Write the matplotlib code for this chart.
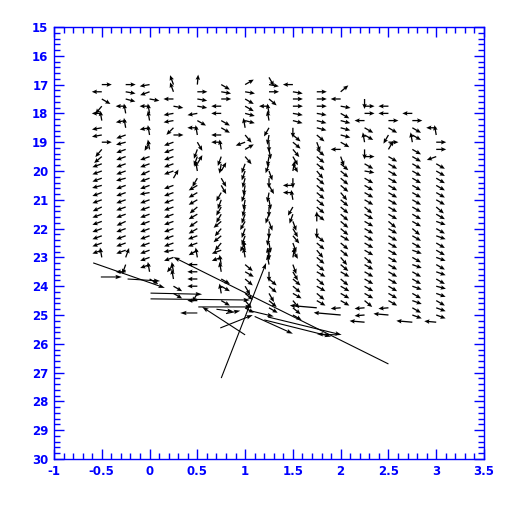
import numpy as np
import matplotlib
matplotlib.use("Agg")
import matplotlib.pyplot as plt
from matplotlib.ticker import MultipleLocator, FormatStrFormatter

# grid of small vectors: one column per x, rows every 0.25 starting at col_ytop
col_x = [-0.5, -0.25, 0.0, 0.25, 0.5, 0.75, 1.0, 1.25, 1.5, 1.75, 2.0, 2.25, 2.5, 2.75, 3.0]
col_ytop = [17.0, 17.0, 17.0, 17.0, 17.0, 17.0, 17.0, 16.75, 17.0, 17.25, 17.25, 17.5, 17.75, 18.0, 18.5]
row_step = 0.25

# direction of each small vector, degrees on screen (0 = right, 90 = up)
col_angles = [
    [0, 180, 330, 230, 180, 100, 190, 190, 0, 230, 220, 200, 200, 200, 195, 200, 200, 205, 200, 200,
     200, 200, 200, 200, 100],
    [0, 350, 345, 180, 100, 190, 100, 200, 195, 200, 200, 200, 200, 195, 200, 200, 200, 200, 200, 205,
     200, 200, 200, 200, 70, 250, 180],
    [190, 200, 350, 180, 100, 100, 190, 100, 240, 100, 200, 200, 205, 200, 200, 190, 200, 200, 200, 200,
     200, 200, 200, 200, 200, 200, 100, 330],
    [110, 110, 180, 350, 190, 190, 225, 0, 200, 200, 200, 200, 200, 60, 200, 200, 200, 200, 200, 200,
     200, 200, 200, 190, 200, 230, 100, 100, 330, 330],
    [85, 0, 350, 350, 190, 330, 180, 100, 300, 250, 250, 60, 100, 240, 210, 210, 210, 220, 210, 215,
     210, 200, 200, 210, 100, 180, 180, 180, 180, 240, 180],
    [330, 350, 0, 180, 180, 330, 330, 180, 180, 100, 250, 260, 60, 300, 300, 240, 250, 240, 240, 220,
     230, 220, 230, 200, 200, 100, 100, 330, 330, 100, 330],
    [30, 350, 330, 330, 345, 345, 100, 310, 200, 30, 310, 250, 250, 255, 260, 250, 260, 255, 250, 240,
     250, 250, 240, 100, 100, 320, 330, 320, 300, 320, 310, 330],
    [300, 350, 0, 320, 180, 100, 100, 240, 260, 270, 280, 260, 250, 290, 270, 300, 260, 280, 270, 250,
     290, 270, 260, 280, 270, 100, 100, 270, 320, 320, 300, 320, 330],
    [180, 350, 0, 0, 350, 345, 270, 320, 320, 310, 300, 300, 80, 270, 180, 180, 100, 240, 250, 290,
     300, 310, 290, 300, 80, 290, 300, 320, 320, 330, 310, 320, 330],
    [0, 0, 0, 350, 345, 345, 320, 290, 320, 320, 320, 310, 320, 320, 320, 320, 320, 320, 90, 270,
     320, 320, 310, 320, 320, 330, 320, 330, 320, 330, 175],
    [40, 180, 350, 330, 345, 345, 345, 330, 180, 290, 320, 320, 320, 320, 310, 320, 320, 320, 320, 320,
     330, 320, 320, 310, 320, 330, 320, 330, 330, 330, 185, 175],
    [270, 0, 0, 180, 330, 330, 100, 270, 0, 330, 350, 330, 330, 330, 330, 320, 330, 330, 330, 330,
     330, 330, 320, 330, 330, 330, 330, 330, 320, 185, 185, 175],
    [180, 180, 0, 330, 240, 0, 60, 330, 330, 330, 330, 330, 330, 330, 330, 330, 320, 330, 330, 330,
     330, 330, 330, 330, 330, 330, 330, 330, 185, 175],
    [180, 0, 330, 330, 100, 330, 330, 330, 330, 330, 330, 330, 330, 330, 330, 330, 320, 330, 330, 340,
     330, 340, 330, 330, 340, 330, 340, 330, 340, 175],
    [180, 100, 0, 0, 200, 330, 330, 330, 330, 330, 330, 320, 330, 340, 330, 340, 330, 330, 340, 330,
     340, 330, 345, 340, 330, 340, 340, 175],
]
# length (px) of the last vector of each column, the rest are 10 px
bottom_len = [10, 10, 10, 10, 10, 10, 10, 10, 10, 27, 27, 15, 15, 16, 12]

# large displacement vectors near the bottom (data coords)
long_x0 = [-0.59, -0.51, -0.23, 0.01, 0.01, 0.51, 0.50, 0.75, 2.50, 1.00, 0.74, 1.24, 1.20, 1.10, 1.96, 0.80, 1.05, 0.70]
long_y0 = [23.19, 23.68, 23.75, 24.24, 24.44, 24.72, 24.93, 27.19, 26.70, 25.69, 25.45, 25.07, 25.17, 25.05, 25.69, 24.95, 24.85, 24.80]
long_x1 = [0.16, -0.29, 0.11, 0.55, 1.05, 1.07, 0.32, 1.22, 0.25, 0.55, 1.08, 2.01, 1.90, 1.50, 1.75, 0.95, 1.30, 0.88]
long_y1 = [24.06, 23.68, 23.82, 24.28, 24.48, 24.72, 24.93, 23.19, 22.99, 24.72, 25.00, 25.69, 25.75, 25.65, 25.66, 24.85, 25.05, 24.88]

fig = plt.figure(figsize=(5.12, 5.12), dpi=100)
ax = fig.add_axes([0.1055, 0.1035, 0.8398, 0.8438])

X, Y, U, V = [], [], [], []
for x, y0, angs, blen in zip(col_x, col_ytop, col_angles, bottom_len):
    for i, a in enumerate(angs):
        L = blen if i == len(angs) - 1 else 10
        X.append(x)
        Y.append(y0 + i * row_step)
        U.append(L * np.cos(np.radians(a)))
        V.append(L * np.sin(np.radians(a)))

ax.quiver(X, Y, U, V, angles='uv', scale_units='dots', scale=1, units='dots',
          width=1.3, headwidth=3.5, headlength=4, headaxislength=3.5, color='black')

dx = np.array(long_x1) - np.array(long_x0)
dy = np.array(long_y1) - np.array(long_y0)
ax.quiver(long_x0, long_y0, dx, dy, angles='xy', scale_units='xy', scale=1, units='dots',
          width=1.1, headwidth=4, headlength=6, headaxislength=5, color='black')

ax.set_xlim(-1, 3.5)
ax.set_ylim(30, 15)
ax.xaxis.set_major_locator(MultipleLocator(0.5))
ax.xaxis.set_minor_locator(MultipleLocator(0.1))
ax.yaxis.set_major_locator(MultipleLocator(1))
ax.yaxis.set_minor_locator(MultipleLocator(0.2))
ax.xaxis.set_major_formatter(FormatStrFormatter('%g'))
ax.yaxis.set_major_formatter(FormatStrFormatter('%g'))

ax.tick_params(which='both', direction='in', top=True, right=True,
               colors='blue', labelcolor='blue', labelsize=8.5, width=1)
ax.tick_params(which='major', length=7, pad=4)
ax.tick_params(which='minor', length=4)
for lab in ax.get_xticklabels() + ax.get_yticklabels():
    lab.set_fontweight('bold')
for s in ax.spines.values():
    s.set_color('blue')
    s.set_linewidth(1)

fig.savefig("out.png", dpi=100)
